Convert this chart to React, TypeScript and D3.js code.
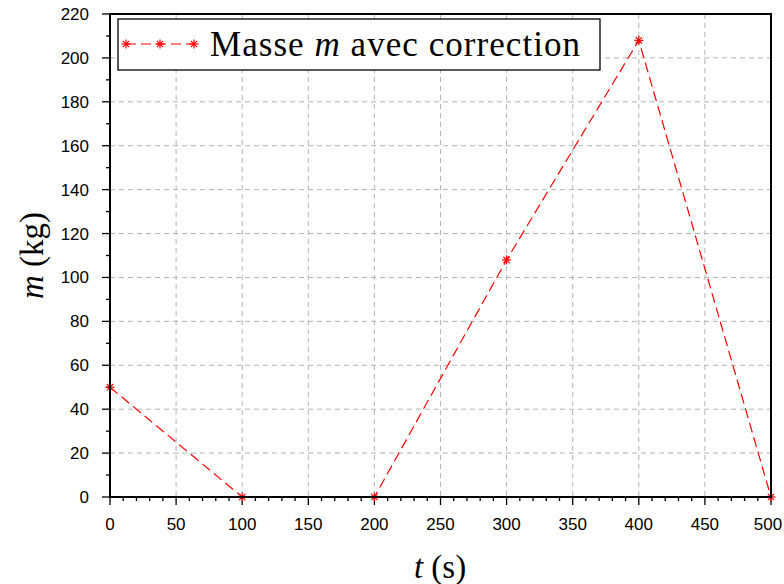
import React from "react";
import * as d3 from "d3";

const tValues = [0, 100, 200, 300, 400, 500];
const mValues = [50, 0, 0, 108, 208, 0];
const xTicks = [0, 50, 100, 150, 200, 250, 300, 350, 400, 450, 500];
const yTicks = [0, 20, 40, 60, 80, 100, 120, 140, 160, 180, 200, 220];
const legendLabel = ["Masse ", "m", " avec correction"];

const W = 784, H = 584;
const L = 110, R = 771, T = 14, B = 497;

function Star({ x, y, r = 4.5 }: { x: number; y: number; r?: number }) {
  const d = r * 0.707;
  return (
    <g stroke="#ff0000" strokeWidth={1.2}>
      <line x1={x - r} y1={y} x2={x + r} y2={y} />
      <line x1={x} y1={y - r} x2={x} y2={y + r} />
      <line x1={x - d} y1={y - d} x2={x + d} y2={y + d} />
      <line x1={x - d} y1={y + d} x2={x + d} y2={y - d} />
    </g>
  );
}

export default function App() {
  const x = d3.scaleLinear().domain([0, 500]).range([L, R]);
  const y = d3.scaleLinear().domain([0, 220]).range([B, T]);
  const pts = tValues.map((t, i) => [x(t), y(mValues[i])] as [number, number]);
  const line = d3.line()(pts) || "";
  const xMinor = d3.range(0, 501, 10).filter((v) => v % 50 !== 0);
  const yMinor = d3.range(0, 221, 10).filter((v) => v % 20 !== 0);
  const serif = "'Liberation Serif', 'Times New Roman', serif";
  const sans = "'Liberation Sans', Arial, sans-serif";

  return (
    <svg width={W} height={H} style={{ position: "absolute", left: 0, top: 0, background: "#fff" }}>
      <rect x={0} y={0} width={W} height={H} fill="#fff" />
      {/* grid */}
      <g stroke="#b4b4b4" strokeWidth={1} strokeDasharray="5,4">
        {xTicks.slice(1, -1).map((v) => (
          <line key={"gx" + v} x1={x(v)} x2={x(v)} y1={T} y2={B} />
        ))}
        {yTicks.slice(1, -1).map((v) => (
          <line key={"gy" + v} x1={L} x2={R} y1={y(v)} y2={y(v)} />
        ))}
      </g>
      {/* ticks */}
      <g stroke="#000" strokeWidth={1.3}>
        {xTicks.map((v) => (
          <line key={"tx" + v} x1={x(v)} x2={x(v)} y1={B} y2={B + 8} />
        ))}
        {xMinor.map((v) => (
          <line key={"mx" + v} x1={x(v)} x2={x(v)} y1={B} y2={B + 4} />
        ))}
        {yTicks.map((v) => (
          <line key={"ty" + v} x1={L - 8} x2={L} y1={y(v)} y2={y(v)} />
        ))}
        {yMinor.map((v) => (
          <line key={"my" + v} x1={L - 4} x2={L} y1={y(v)} y2={y(v)} />
        ))}
      </g>
      {/* tick labels */}
      <g fontFamily={sans} fontSize={17} fill="#000">
        {xTicks.map((v) => (
          <text key={"lx" + v} x={Math.min(x(v), W - 16)} y={B + 33} textAnchor="middle">{v}</text>
        ))}
        {yTicks.map((v) => (
          <text key={"ly" + v} x={L - 21} y={y(v) + 6} textAnchor="end">{v}</text>
        ))}
      </g>
      {/* data */}
      <path d={line} fill="none" stroke="#ff0000" strokeWidth={1.2} strokeDasharray="10,5" />
      {pts.map((p, i) => (
        <Star key={"p" + i} x={p[0]} y={p[1]} />
      ))}
      {/* frame */}
      <rect x={L} y={T} width={R - L} height={B - T} fill="none" stroke="#000" strokeWidth={2} />
      {/* legend */}
      <rect x={118} y={19} width={482} height={51} fill="#fff" stroke="#000" strokeWidth={1.3} />
      <line x1={126} x2={194} y1={44} y2={44} stroke="#ff0000" strokeWidth={1.2} strokeDasharray="10,5" />
      <Star x={126} y={44} />
      <Star x={160} y={44} />
      <Star x={194} y={44} />
      <text x={210} y={56} fontFamily={serif} fontSize={35} fill="#000" textLength={370} lengthAdjust="spacing">
        {legendLabel[0]}
        <tspan fontStyle="italic">{legendLabel[1]}</tspan>
        {legendLabel[2]}
      </text>
      {/* axis labels */}
      <text x={440} y={578} fontFamily={serif} fontSize={33} textAnchor="middle" fill="#000">
        <tspan fontStyle="italic">t</tspan> (s)
      </text>
      <text
        transform={`translate(43, ${(T + B) / 2}) rotate(-90)`}
        fontFamily={serif}
        fontSize={33}
        textAnchor="middle"
        fill="#000"
      >
        <tspan fontStyle="italic">m</tspan> (kg)
      </text>
    </svg>
  );
}
